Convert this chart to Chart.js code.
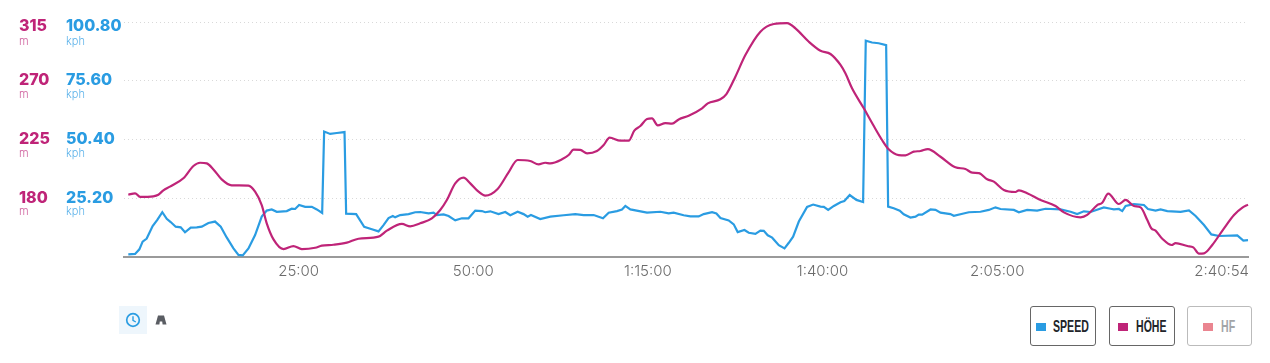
<!DOCTYPE html>
<html><head><meta charset="utf-8">
<script src="https://cdn.jsdelivr.net/npm/chart.js@4"></script>
<style>
html,body{margin:0;padding:0;background:#fff;overflow:hidden}
#wrap{position:relative;width:1270px;height:363px}
canvas{position:absolute;left:0;top:0}
.btn{position:absolute;top:306px;height:38px;border:1px solid #666;border-radius:3px;box-sizing:content-box;background:#fff;
 font:700 16.5px "Liberation Sans",sans-serif;color:#22252a}
.btn i{position:absolute;top:16px;width:10px;height:8px}
.btn span{position:absolute;top:10px;line-height:18px;white-space:nowrap;transform:scaleX(.64);transform-origin:left center}
.btn.off{border-color:#bbb;color:#a3a5a8}
#time{position:absolute;left:119px;top:306px;width:28px;height:28px;background:#eef6fc}
#road{position:absolute;left:155px;top:314px}
</style></head><body>
<div id="wrap"><canvas id="c" width="1270" height="300"></canvas>
<div id="time"><svg width="28" height="28"><circle cx="14" cy="14" r="6.3" fill="none" stroke="#2b9de2" stroke-width="1.7"/><path d="M14 10.3V14.4L16.8 16" fill="none" stroke="#2b9de2" stroke-width="1.4"/></svg></div>
<svg id="road" width="12" height="12"><path d="M3 1.5H9L11.5 10.5H7.6L7.2 7.5H4.8L4.4 10.5H.5Z" fill="#5a5d63"/></svg>
<div id="legend"></div></div>
<script>
const speedTimes=[37,95,132,160,195,246,286,329,367,401,444,487,524,573,625,668,725,782,831,882,940,983,1020,1069,1126,1183,1226,1269,1312,1398,1441,1470,1504,1556,1613,1656,1702,1719,1771,1828,1894,1908,1994,2063,2129,2186,2229,2272,2309,2329,2372,2444,2501,2544,2616,2659,2687,2745,2788,2845,2902,2959,3017,3074,3103,3146,3217,3275,3318,3381,3432,3467,3495,3575,3661,3776,3876,3948,4034,4114,4163,4234,4277,4306,4349,4492,4607,4678,4721,4807,4865,4936,4979,5051,5088,5123,5194,5237,5271,5329,5366,5423,5466,5495,5529,5567,5624,5673,5710,5747,5796,5867,5919,5982,6011,6048,6097,6154,6187,6233,6291,6348,6371,6425,6482,6546,6563,6611,6663,6697,6755,6798,6826,6855,6927,6970,7013,7098,7127,7256,7356,7428,7485,7528,7643,7686,7757,7843,7915,8044,8130,8187,8244,8302,8416,8474,8502,8545,8574,8603,8674,8760,8795,8860,8903,8961,9075,9147,9204,9276,9339,9405,9562,9614,9654];
const speedValues=[1.1,1.3,3.3,6.6,7.9,13.3,15.9,19.2,16.4,15.0,13.0,12.7,10.6,12.6,12.7,13.0,14.6,15.2,13.0,8.4,3.7,0.9,0.7,3.7,9.4,17.3,19.9,20.4,19.4,19.7,20.7,20.6,22.3,21.5,21.5,20.4,18.9,53.8,52.8,53.2,53.6,18.6,18.4,12.9,11.9,11.0,13.7,16.7,17.6,17.0,18.0,18.4,19.2,19.3,18.7,19.0,18.0,18.3,17.6,15.7,16.6,16.6,19.9,19.7,19.2,19.6,18.4,19.3,17.9,19.4,18.4,17.3,18.0,16.3,17.3,17.9,18.4,18.0,18.0,16.6,19.0,19.7,20.4,21.9,20.4,19.0,19.4,18.7,19.0,17.9,17.4,17.4,18.4,19.2,18.7,16.7,15.7,14.0,10.7,11.6,10.4,9.9,11.3,11.2,9.3,8.3,5.1,3.7,6.1,8.7,15.2,21.5,22.5,21.6,21.5,20.2,21.9,23.5,24.0,26.6,24.5,23.6,92.8,92.0,91.7,90.9,21.6,20.9,19.9,18.3,16.9,17.3,18.2,18.2,20.4,20.2,19.0,18.4,17.7,19.2,19.4,20.2,21.3,20.6,20.2,19.2,20.2,19.9,20.7,20.4,19.4,18.4,19.6,19.3,21.3,20.7,20.4,20.6,19.7,21.9,22.7,22.3,20.6,19.9,20.4,19.7,19.4,20.0,17.6,13.7,9.7,9.0,9.3,7.0,7.2];
const altTimes=[37,95,138,252,295,338,395,510,596,653,711,768,839,925,1069,1126,1183,1226,1284,1370,1455,1527,1642,1699,1799,1914,2014,2186,2258,2387,2458,2544,2644,2716,2773,2845,2916,2974,3045,3103,3209,3303,3381,3489,3561,3618,3661,3762,3819,3862,3919,3977,4062,4120,4171,4263,4335,4383,4435,4492,4535,4584,4650,4707,4764,4850,4965,5014,5122,5174,5251,5337,5466,5581,5695,5767,5882,5982,6068,6154,6196,6253,6354,6440,6511,6568,6654,6712,6783,6841,6904,7013,7141,7227,7285,7342,7414,7471,7557,7657,7686,7757,7872,8001,8073,8216,8273,8359,8402,8454,8545,8603,8674,8732,8789,8823,8860,8918,8998,9032,9133,9184,9233,9276,9347,9448,9534,9606,9654];
const altValues=[182.7,183.8,181.0,181.5,182.7,186.1,188.9,195.3,204.7,207.2,206.7,202.1,194.5,189.9,189.6,185.0,174.8,160.8,148.5,141.1,143.4,141.1,142.1,143.7,144.4,146.0,149.0,150.6,155.2,160.3,158.5,160.8,164.6,171.0,178.7,191.4,195.8,191.4,185.0,182.0,187.1,199.8,209.3,208.5,206.0,207.2,206.7,209.8,213.1,217.2,217.0,214.4,216.2,220.8,226.4,224.1,224.1,231.8,235.3,240.7,241.2,235.8,237.6,237.1,240.4,243.2,248.9,252.7,255.8,259.8,273.1,289.7,307.6,313.5,314.2,310.1,299.9,293.0,290.5,282.1,275.7,264.2,248.9,235.3,224.6,217.5,213.1,212.9,215.7,216.2,217.7,211.8,203.7,202.4,199.6,199.3,194.5,192.7,186.3,184.8,186.1,183.8,178.7,174.1,169.2,165.4,167.2,174.8,176.6,183.5,175.6,178.7,174.1,173.0,163.3,157.0,155.2,149.0,144.2,145.7,143.4,142.4,137.6,137.8,144.2,157.0,167.2,172.8,175.1];
const xTickValues=[1500,3000,4500,6000,7500,9654];
const xTickLabels=["25:00","50:00","1:15:00","1:40:00","2:05:00","2:40:54"];
const altTicks=[180,225,270,315];
const speedTicks=[25.2,50.4,75.6,100.8];
const legendNames=["SPEED","HÖHE","HF"];

const BLUE="#2a9ce2",MAG="#bf2478";
const pairs=(a,b)=>a.map((x,i)=>({x,y:b[i]}));

// Chart.js cannot move single tick labels, so adjust its own cached label items before drawing.
const labelTweaks={id:"labelTweaks",beforeDraw(ch){
  const ca=ch.chartArea;
  const xi=ch.scales.x.getLabelItems(ca);
  const last=xi[xi.length-1];
  if(!last._done){last._done=1;last.options.textAlign="right";last.options.translation[0]+=1;}
  for(const id of ["yAlt","ySpeed"]){
    const it=ch.scales[id].getLabelItems(ca);
    const top=it[it.length-1];
    if(!top._done){top._done=1;top.options.translation[1]+=4.5;}
  }
}};
// Small unit captions below each value tick.
const units={id:"units",afterDraw(ch){
  const c=ch.ctx;c.save();c.textBaseline="middle";c.textAlign="left";
  c.font='300 11px Inter, sans-serif';
  for(const [id,txt,col] of [["yAlt","m","#cf5f9d"],["ySpeed","kph","#5db3ea"]]){
    const s=ch.scales[id];c.fillStyle=col;
    s.ticks.forEach((t,i)=>{
      const p=s.getPixelForTick(i)+(i===s.ticks.length-1?19.2:13.7);
      c.fillText(txt,s.left,p);
    });
  }
  c.restore();
}};
const yAxis=(min,max,ticks,color,width,weight,fmt,grid)=>({
  type:"linear",position:"left",weight,min,max,
  afterBuildTicks:s=>{s.ticks=ticks.map(v=>({value:v}));},
  afterFit:s=>{s.width=width;},
  grid:grid?{display:true,color:"#d9d9d9",lineWidth:1,drawTicks:false}:{display:false,drawTicks:false},
  border:grid?{display:false,dash:[1,3]}:{display:false},
  ticks:{crossAlign:"far",padding:0,labelOffset:-0.5,color,font:{family:"Inter",size:16,weight:"800"},callback:fmt}
});
new Chart(document.getElementById("c"),{
  type:"line",
  data:{datasets:[
    {label:"Höhe",data:pairs(altTimes,altValues),yAxisID:"yAlt",borderColor:MAG,borderWidth:2.2,pointRadius:0,cubicInterpolationMode:"monotone",order:1,clip:false},
    {label:"Speed",data:pairs(speedTimes,speedValues),yAxisID:"ySpeed",borderColor:BLUE,borderWidth:2.2,pointRadius:0,order:2,clip:false}
  ]},
  plugins:[labelTweaks,units],
  options:{
    responsive:false,animation:false,
    layout:{padding:{left:19,right:22,top:22,bottom:0}},
    plugins:{legend:{display:false},tooltip:{enabled:false}},
    scales:{
      x:{type:"linear",min:0,max:9654,
        afterBuildTicks:s=>{s.ticks=xTickValues.map(v=>({value:v}));},
        afterFit:s=>{s.height=43;s.paddingLeft=0;s.paddingRight=0;},
        grid:{display:false,drawTicks:false},
        border:{display:true,color:"#9a9a9a",width:2},
        ticks:{autoSkip:false,maxRotation:0,padding:5,color:"#6b6b6b",font:{family:"Inter",size:15,weight:"300"},
          callback:(v,i)=>xTickLabels[i]}
      },
      yAlt:yAxis(135,315,altTicks,"#bf2478",47,2,v=>String(v),false),
      ySpeed:yAxis(0,100.8,speedTicks,"#2a9ce2",58,1,v=>v.toFixed(2),true)
    }
  }
});
// Legend buttons
const btnGeo=[[1030,64,5,22],[1109,64,8,26],[1187,63,15,33]];
const btnCol=[BLUE,MAG,"#ea8590"];
const lg=document.getElementById("legend");
legendNames.forEach((n,i)=>{
  const [l,w,sq,tx]=btnGeo[i];
  const b=document.createElement("div");
  b.className="btn"+(i===2?" off":"");
  b.style.left=l+"px";b.style.width=w+"px";
  b.innerHTML=`<i style="left:${sq}px;background:${btnCol[i]}"></i><span style="left:${tx}px">${n}</span>`;
  lg.appendChild(b);
});
</script></body></html>
